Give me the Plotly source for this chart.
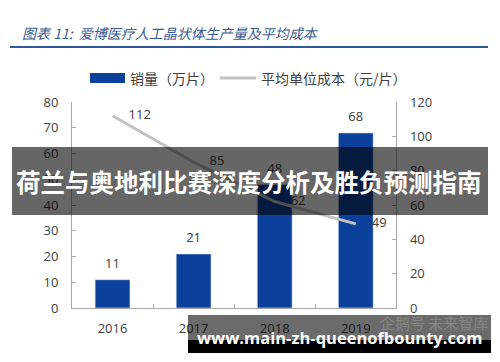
import plotly.graph_objects as go
from plotly.subplots import make_subplots

# ---- data ----
years = ["2016", "2017", "2018", "2019"]
sales = [11, 21, 48, 68]          # 销量（万片）
unit_cost = [112, 85, 62, 49]     # 平均单位成本（元/片）
sales_name = "销量（万片）"
cost_name = "平均单位成本（元/片）"
left_ticks = [0, 10, 20, 30, 40, 50, 60, 70, 80]
right_ticks = [0, 20, 40, 60, 80, 100, 120]
title_text = "图表 11:  爱博医疗人工晶状体生产量及平均成本"
banner_text = "荷兰与奥地利比赛深度分析及胜负预测指南"
footer_text = "www.main-zh-queenofbounty.com"
faint_text = "企鹅号 未来智库"

BAR = "#0b419b"
LINE = "#c3c3c3"
AX = "#a6a6a6"
TXT = "#404040"
NUM_FONT = "Open Sans"
CJK = "Noto Sans CJK SC"

W, H = 500, 362
L, R, T, B = 72, 83, 102, 54
PW, PH = W - L - R, H - T - B


def px(x):
    return (x - L) / PW


def py(y):
    return (H - B - y) / PH


fig = make_subplots(specs=[[{"secondary_y": True}]])

fig.add_trace(go.Bar(x=years, y=sales, name=sales_name, marker_color=BAR,
                     marker_line=dict(color="#dfe6f3", width=0.6)),
              secondary_y=False)
# bar value labels
fig.add_trace(go.Scatter(x=years, y=sales, mode="markers+text", text=[str(v) for v in sales],
                         textposition="top center",
                         marker=dict(size=12, color="rgba(0,0,0,0)"),
                         textfont=dict(family=NUM_FONT, size=13, color=TXT),
                         cliponaxis=False, hoverinfo="skip"),
              secondary_y=False)

fig.add_trace(go.Scatter(x=years, y=unit_cost, name=cost_name, mode="lines",
                         line=dict(color=LINE, width=3)),
              secondary_y=True)
fig.add_trace(go.Scatter(x=years, y=unit_cost, mode="markers+text", text=[str(v) for v in unit_cost],
                         textposition="middle right",
                         marker=dict(size=24, color="rgba(0,0,0,0)"),
                         textfont=dict(family=NUM_FONT, size=13, color=TXT),
                         cliponaxis=False, hoverinfo="skip"),
              secondary_y=True)

fig.update_layout(
    width=W, height=H,
    margin=dict(l=L, r=R, t=T, b=B),
    paper_bgcolor="white", plot_bgcolor="white",
    showlegend=False, bargap=0.57,
)
fig.update_xaxes(type="category", tickson="boundaries", ticks="inside", ticklen=4,
                 tickcolor=AX, showline=True, linecolor=AX, linewidth=1,
                 tickfont=dict(family=NUM_FONT, size=13, color=TXT),
                 ticklabelstandoff=8, showgrid=False)
fig.update_yaxes(range=[0, 80], tickvals=left_ticks, ticks="inside", ticklen=4, tickcolor=AX,
                 showline=True, linecolor=AX, linewidth=1, showgrid=False, zeroline=False,
                 tickfont=dict(family=NUM_FONT, size=13, color=TXT), ticklabelstandoff=10,
                 secondary_y=False)
fig.update_yaxes(range=[0, 120], tickvals=right_ticks, ticks="inside", ticklen=4, tickcolor=AX,
                 showline=True, linecolor=AX, linewidth=1, showgrid=False, zeroline=False,
                 tickfont=dict(family=NUM_FONT, size=13, color=TXT), ticklabelstandoff=10,
                 secondary_y=True)

shapes = []
annotations = []

# title + rule
annotations.append(dict(xref="paper", yref="paper", x=px(20), y=py(33), xanchor="left",
                        yanchor="middle", showarrow=False, text="<i>" + title_text + "</i>",
                        font=dict(family=CJK, size=14, color="#3d5a92")))
shapes.append(dict(type="line", xref="paper", yref="paper", x0=px(10), x1=px(488),
                   y0=py(47), y1=py(47), line=dict(color="#2e5a9c", width=2)))

# legend
shapes.append(dict(type="rect", xref="paper", yref="paper", x0=px(90), x1=px(125),
                   y0=py(83), y1=py(73), fillcolor=BAR, line=dict(width=0)))
annotations.append(dict(xref="paper", yref="paper", x=px(128), y=py(78), xanchor="left",
                        yanchor="middle", showarrow=False, text=sales_name,
                        font=dict(family=CJK, size=14, color=TXT)))
shapes.append(dict(type="line", xref="paper", yref="paper", x0=px(220), x1=px(256),
                   y0=py(78), y1=py(78), line=dict(color=LINE, width=3)))
annotations.append(dict(xref="paper", yref="paper", x=px(259), y=py(78), xanchor="left",
                        yanchor="middle", showarrow=False, text=cost_name,
                        font=dict(family=CJK, size=14, color=TXT)))

# overlay banner
shapes.append(dict(type="rect", xref="paper", yref="paper", x0=px(12), x1=px(488),
                   y0=py(215), y1=py(147), fillcolor="rgba(0,0,0,0.6)",
                   line=dict(width=0), layer="above"))
annotations.append(dict(xref="paper", yref="paper", x=px(249), y=py(181), xanchor="center",
                        yanchor="middle", showarrow=False, text="<b>" + banner_text + "</b>",
                        font=dict(family=CJK, size=24.5, color="white")))

# footer watermark
shapes.append(dict(type="rect", xref="paper", yref="paper", x0=px(188), x1=px(491),
                   y0=py(340), y1=py(315), fillcolor="rgba(0,0,0,0.58)",
                   line=dict(width=0), layer="above"))
shapes.append(dict(type="rect", xref="paper", yref="paper", x0=px(188), x1=px(491),
                   y0=py(353), y1=py(340), fillcolor="black",
                   line=dict(width=0), layer="above"))
annotations.append(dict(xref="paper", yref="paper", x=px(490), y=py(322), xanchor="right",
                        yanchor="middle", showarrow=False, text=faint_text,
                        font=dict(family=CJK, size=15, color="rgba(255,255,255,0.2)")))
annotations.append(dict(xref="paper", yref="paper", x=px(339), y=py(337), xanchor="center",
                        yanchor="middle", showarrow=False, text="<b>" + footer_text + "</b>",
                        font=dict(family="Open Sans", size=16.5, color="white")))

fig.update_layout(shapes=shapes, annotations=annotations)
fig.write_html("out.html", config={"displayModeBar": False},
               post_script="document.body.style.margin='0';")
